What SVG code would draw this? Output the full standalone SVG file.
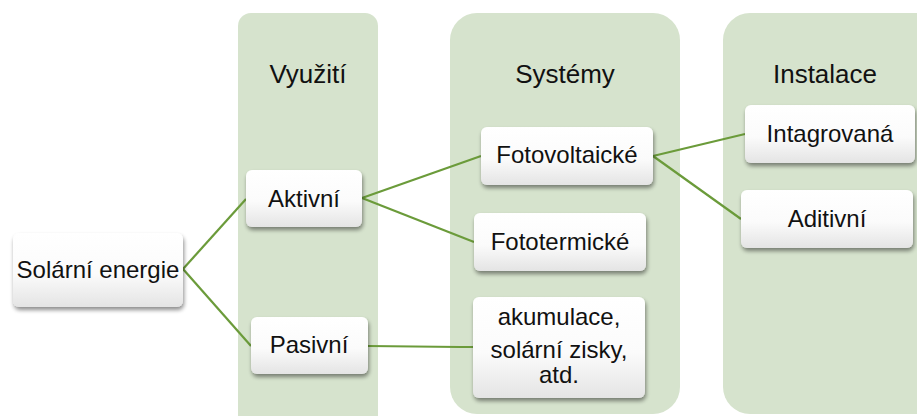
<svg xmlns="http://www.w3.org/2000/svg" width="917" height="416" viewBox="0 0 917 416">
  <defs>
    <linearGradient id="nodeGrad" x1="0" y1="0" x2="0" y2="1">
      <stop offset="0" stop-color="#ffffff"/>
      <stop offset="0.55" stop-color="#fbfbfb"/>
      <stop offset="1" stop-color="#e4e4e4"/>
    </linearGradient>
    <filter id="shadow" x="-10%" y="-10%" width="125%" height="135%">
      <feGaussianBlur in="SourceAlpha" stdDeviation="2"/>
      <feOffset dx="1" dy="3" result="b"/>
      <feComponentTransfer><feFuncA type="linear" slope="0.45"/></feComponentTransfer>
      <feMerge><feMergeNode/><feMergeNode in="SourceGraphic"/></feMerge>
    </filter>
  </defs>
  <style>
    .col { fill: #d6e3cd; }
    .node rect { fill: url(#nodeGrad); filter: url(#shadow); }
    .hdr { font-family: "Liberation Sans", Arial, sans-serif; font-size: 26px; fill: #111; text-anchor: middle; }
    .lbl { font-family: "Liberation Sans", Arial, sans-serif; font-size: 24px; fill: #111; text-anchor: middle; }
    .conn line, .conn polyline { stroke: #6b9b3a; stroke-width: 2.2; fill: none; }
  </style>

  <g id="columns">
    <rect class="col" x="238" y="13" width="140" height="420" rx="13"/>
    <rect class="col" x="450" y="13" width="230" height="401" rx="27"/>
    <rect class="col" x="723" y="13" width="220" height="401" rx="27"/>
    <text class="hdr" x="308" y="83">Využití</text>
    <text class="hdr" x="565" y="83">Systémy</text>
    <text class="hdr" x="825" y="83">Instalace</text>
  </g>

  <g class="conn" id="connectors">
    <line x1="183" y1="269" x2="246" y2="199"/>
    <line x1="183" y1="269" x2="251" y2="346"/>
    <line x1="362" y1="198" x2="481" y2="156"/>
    <line x1="362" y1="198" x2="474" y2="242"/>
    <polyline points="368,346 460,347 473,347"/>
    <line x1="653" y1="156" x2="745" y2="134"/>
    <line x1="653" y1="156" x2="741" y2="219"/>
  </g>

  <g class="node" id="solarni">
    <rect x="13" y="233" width="170" height="74" rx="6"/>
    <text class="lbl" x="98" y="278">Solární energie</text>
  </g>
  <g class="node" id="aktivni">
    <rect x="246" y="170" width="116" height="57" rx="6"/>
    <text class="lbl" x="304" y="207">Aktivní</text>
  </g>
  <g class="node" id="pasivni">
    <rect x="251" y="317" width="117" height="57" rx="6"/>
    <text class="lbl" x="309" y="353">Pasivní</text>
  </g>
  <g class="node" id="fotovoltaicke">
    <rect x="481" y="127" width="172" height="58" rx="6"/>
    <text class="lbl" x="567" y="163">Fotovoltaické</text>
  </g>
  <g class="node" id="fototermicke">
    <rect x="474" y="213" width="172" height="58" rx="6"/>
    <text class="lbl" x="560" y="250">Fototermické</text>
  </g>
  <g class="node" id="akumulace">
    <rect x="473" y="297" width="172" height="101" rx="6"/>
    <text class="lbl" x="559" y="325">akumulace,</text>
    <text class="lbl" x="559" y="358">solární zisky,</text>
    <text class="lbl" x="559" y="383">atd.</text>
  </g>
  <g class="node" id="intagrovana">
    <rect x="745" y="105" width="170" height="58" rx="6"/>
    <text class="lbl" x="830" y="142">Intagrovaná</text>
  </g>
  <g class="node" id="aditivni">
    <rect x="741" y="190" width="172" height="58" rx="6"/>
    <text class="lbl" x="827" y="227">Aditivní</text>
  </g>
</svg>
